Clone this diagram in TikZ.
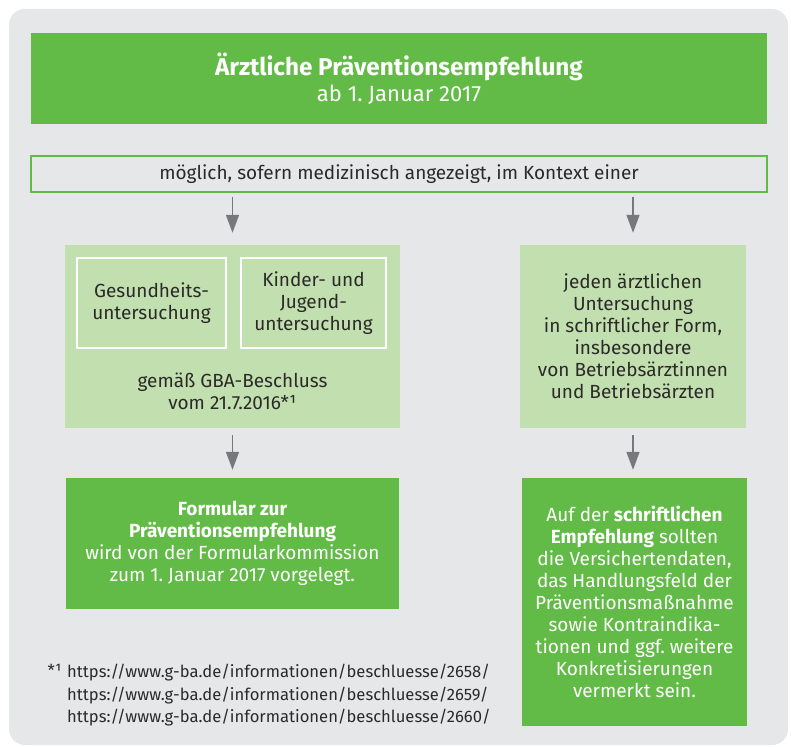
\documentclass[tikz,border=0pt]{standalone}
\usepackage{fontspec}
\setmainfont{Fira Sans}
\usetikzlibrary{arrows.meta}
\definecolor{bggray}{HTML}{E6E7E8}
\definecolor{dgreen}{HTML}{62BB46}
\definecolor{lgreen}{HTML}{C2E0AF}
\definecolor{arrgray}{HTML}{77787B}
\definecolor{txt}{HTML}{2B2A29}
\frenchspacing
\begin{document}
\begin{tikzpicture}[x=1pt,y=-1pt,
  body/.style={font=\fontsize{19}{22}\selectfont, text=txt, align=center, inner sep=0pt},
  darkbox/.style={rectangle, fill=dgreen, text=white, align=center, inner sep=0pt, font=\fontsize{19}{22}\selectfont},
  lightbox/.style={rectangle, fill=lgreen, text=txt, align=center, inner sep=0pt, font=\fontsize{19}{22}\selectfont},
  innerbox/.style={rectangle, draw=white, line width=1.5pt, text=txt, align=center, inner sep=0pt, font=\fontsize{19}{22}\selectfont},
  outlinebox/.style={rectangle, draw=dgreen, line width=1.5pt, fill=bggray, text=txt, inner sep=0pt, font=\fontsize{19}{22}\selectfont},
  arr/.style={draw=arrgray, line width=1.5pt, -{Triangle[width=13pt,length=18pt]}, arrgray},
  note/.style={font=\fontsize{16.6}{22.5}\selectfont, text=txt, inner sep=0pt, align=left}
]
\useasboundingbox (0,0) rectangle (791,746);
\fill[bggray, rounded corners=16pt] (9,9) rectangle (788,745);

\node[darkbox, minimum width=736pt, minimum height=91pt] (title) at (399,78.5)
  {{\fontsize{24.3}{27}\selectfont\bfseries Ärztliche Präventionsempfehlung}\\[4pt]
   {\fontsize{22}{27}\selectfont ab 1. Januar 2017}};

\node[outlinebox, minimum width=736pt, minimum height=36pt] (ctx) at (399,174)
  {möglich, sofern medizinisch angezeigt, im Kontext einer};

\node[lightbox, minimum width=335pt, minimum height=183pt] (lbox) at (232.5,336.5) {};
\node[innerbox, minimum width=149pt, minimum height=90pt] (ges) at (151.5,303)
  {Gesundheits-\\untersuchung};
\node[innerbox, minimum width=145pt, minimum height=90pt] (kind) at (313.5,303)
  {Kinder- und\\Jugend-\\untersuchung};
\node[body] (gba) at (232.5,391) {gemäß GBA-Beschluss\\vom 21.7.2016*¹};

\node[lightbox, minimum width=226pt, minimum height=183pt] (rbox) at (633,336.5)
  {jeden ärztlichen\\Untersuchung\\in schriftlicher Form,\\insbesondere\\von Betriebsärztinnen\\und Betriebsärzten};

\node[darkbox, minimum width=333pt, minimum height=131pt] (form) at (232.5,543.5)
  {\textbf{Formular zur}\\\textbf{Präventionsempfehlung}\\wird von der Formularkommission\\zum 1. Januar 2017 vorgelegt.};

\node[darkbox, minimum width=225pt, minimum height=248pt] (empf) at (634.5,602)
  {Auf der \textbf{schriftlichen}\\\textbf{Empfehlung} sollten\\die Versichertendaten,\\das Handlungsfeld der\\Präventionsmaßnahme\\sowie Kontraindika-\\tionen und ggf. weitere\\Konkretisierungen\\vermerkt sein.};

\node[note, anchor=north west] (urls) at (67,664)
  {https://www.g-ba.de/informationen/beschluesse/2658/\\
   https://www.g-ba.de/informationen/beschluesse/2659/\\
   https://www.g-ba.de/informationen/beschluesse/2660/};
\node[note, anchor=north east] (mark) at ([xshift=-5pt]urls.north west) {*¹};

\draw[arr, shorten <=4pt, shorten >=12pt] (ctx.south -| lbox.north) -- (lbox.north);
\draw[arr, shorten <=4pt, shorten >=12pt] (ctx.south -| rbox.north) -- (rbox.north);
\draw[arr, shorten <=7pt, shorten >=8pt] (lbox.south) -- (lbox.south |- form.north);
\draw[arr, shorten <=7pt, shorten >=8pt] (rbox.south) -- (rbox.south |- empf.north);
\end{tikzpicture}
\end{document}
